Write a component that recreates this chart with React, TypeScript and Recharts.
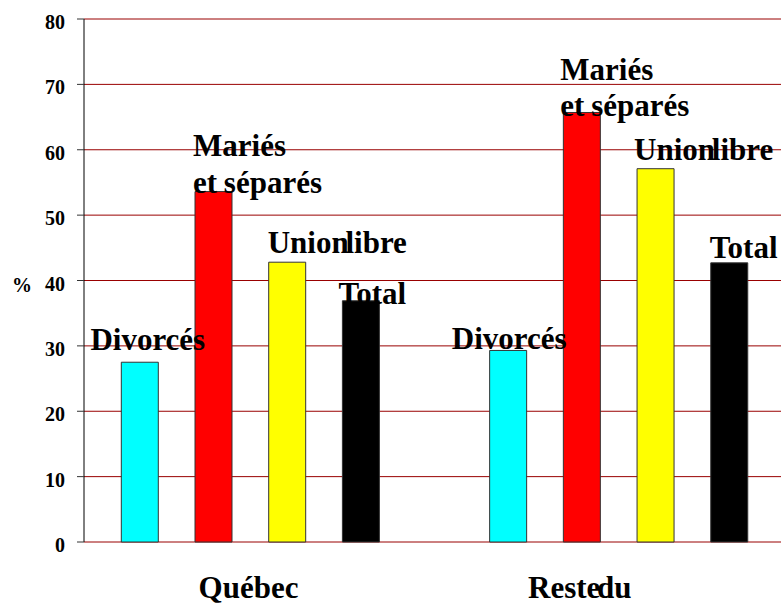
import React from 'react';
import { BarChart, Bar, XAxis, YAxis, CartesianGrid, LabelList } from 'recharts';

// Répartition (%) par état matrimonial
const groups = ['Québec', 'Reste du'];
const divorces = [27.5, 29.3];
const maries = [53.6, 65.7];
const unionLibre = [42.8, 57.1];
const total = [36.9, 42.7];
const yTicks = [0, 10, 20, 30, 40, 50, 60, 70, 80];

const data = groups.map((g, i) => ({
  group: g,
  divorces: divorces[i],
  maries: maries[i],
  unionLibre: unionLibre[i],
  total: total[i],
}));

const FONT = '"Liberation Serif", "Times New Roman", serif';
const GRID = '#990000';

// label placement tweaks per series, per group: [dx, dy]
const labelNudge: Record<string, number[][]> = {
  divorces: [[8, -12], [1, -1]],
  maries: [[-2, 1], [-3, 4]],
  unionLibre: [[-1, -9], [-3, -9]],
  total: [[-4, 3], [-1, -5]],
};

const series = [
  { key: 'divorces', fill: '#00FFFF', lines: ['Divorcés'], anchor: 'middle', ws: [0] },
  { key: 'maries', fill: '#FF0000', lines: ['Mariés', 'et séparés'], anchor: 'start', ws: [0, -1] },
  { key: 'unionLibre', fill: '#FFFF00', lines: ['Union libre'], anchor: 'start', ws: [-11] },
  { key: 'total', fill: '#000000', lines: ['Total'], anchor: 'start', ws: [0] },
];

function makeLabel(s: (typeof series)[number]) {
  return (props: any) => {
    const { x, y, width, index } = props;
    const [dx, dy] = labelNudge[s.key][index] || [0, 0];
    const tx = (s.anchor === 'middle' ? x + width / 2 : x) + dx;
    const base = y + dy;
    const n = s.lines.length;
    return (
      <g>
        {s.lines.map((line, i) => (
          <text
            key={i}
            x={tx}
            y={base - (n - 1 - i) * 36.5}
            textAnchor={s.anchor}
            style={{ fontFamily: FONT, fontWeight: 'bold', fontSize: 31, wordSpacing: s.ws[i] }}
            fill="#000"
          >
            {line}
          </text>
        ))}
      </g>
    );
  };
}

const catNudge: Record<string, number> = { 'Québec': -2, 'Reste du': -39 };

function CategoryTick(props: any) {
  const { x, payload } = props;
  return (
    <text
      x={x + (catNudge[payload.value] || 0)}
      y={598}
      textAnchor="middle"
      style={{ fontFamily: FONT, fontWeight: 'bold', fontSize: 31, wordSpacing: -11 }}
      fill="#000"
    >
      {payload.value}
    </text>
  );
}

function ValueTick(props: any) {
  const { x, y, payload } = props;
  return (
    <text
      x={x}
      y={y + 10}
      textAnchor="end"
      style={{ fontFamily: FONT, fontWeight: 'bold', fontSize: 20 }}
      fill="#000"
    >
      {payload.value}
    </text>
  );
}

export default function App() {
  return (
    <div
      style={{
        position: 'fixed',
        top: 0,
        left: 0,
        width: 781,
        height: 604,
        overflow: 'hidden',
        background: '#fff',
      }}
    >
      <BarChart
        width={810}
        height={604}
        data={data}
        margin={{ top: 19, right: 7, bottom: 0, left: 0 }}
        barSize={37}
        barGap={36.7}
      >
        <CartesianGrid horizontal vertical={false} stroke={GRID} strokeWidth={1} />
        <XAxis
          dataKey="group"
          height={62}
          axisLine={false}
          tickLine={false}
          padding={{ left: -17.7, right: 0 }}
          tick={<CategoryTick />}
          interval={0}
        />
        <YAxis
          width={84}
          domain={[0, 80]}
          ticks={yTicks}
          interval={0}
          axisLine={{ stroke: '#000' }}
          tickLine={{ stroke: '#333' }}
          tickSize={7}
          tickMargin={12}
          tick={<ValueTick />}
          label={{
            value: '%',
            position: 'insideLeft',
            offset: 12,
            dy: 4,
            style: { fontFamily: FONT, fontWeight: 'bold', fontSize: 20 },
            fill: '#000',
          }}
        />
        {series.map((s) => (
          <Bar key={s.key} dataKey={s.key} fill={s.fill} stroke="#333" strokeWidth={1} isAnimationActive={false}>
            <LabelList dataKey={s.key} content={makeLabel(s)} />
          </Bar>
        ))}
      </BarChart>
    </div>
  );
}
